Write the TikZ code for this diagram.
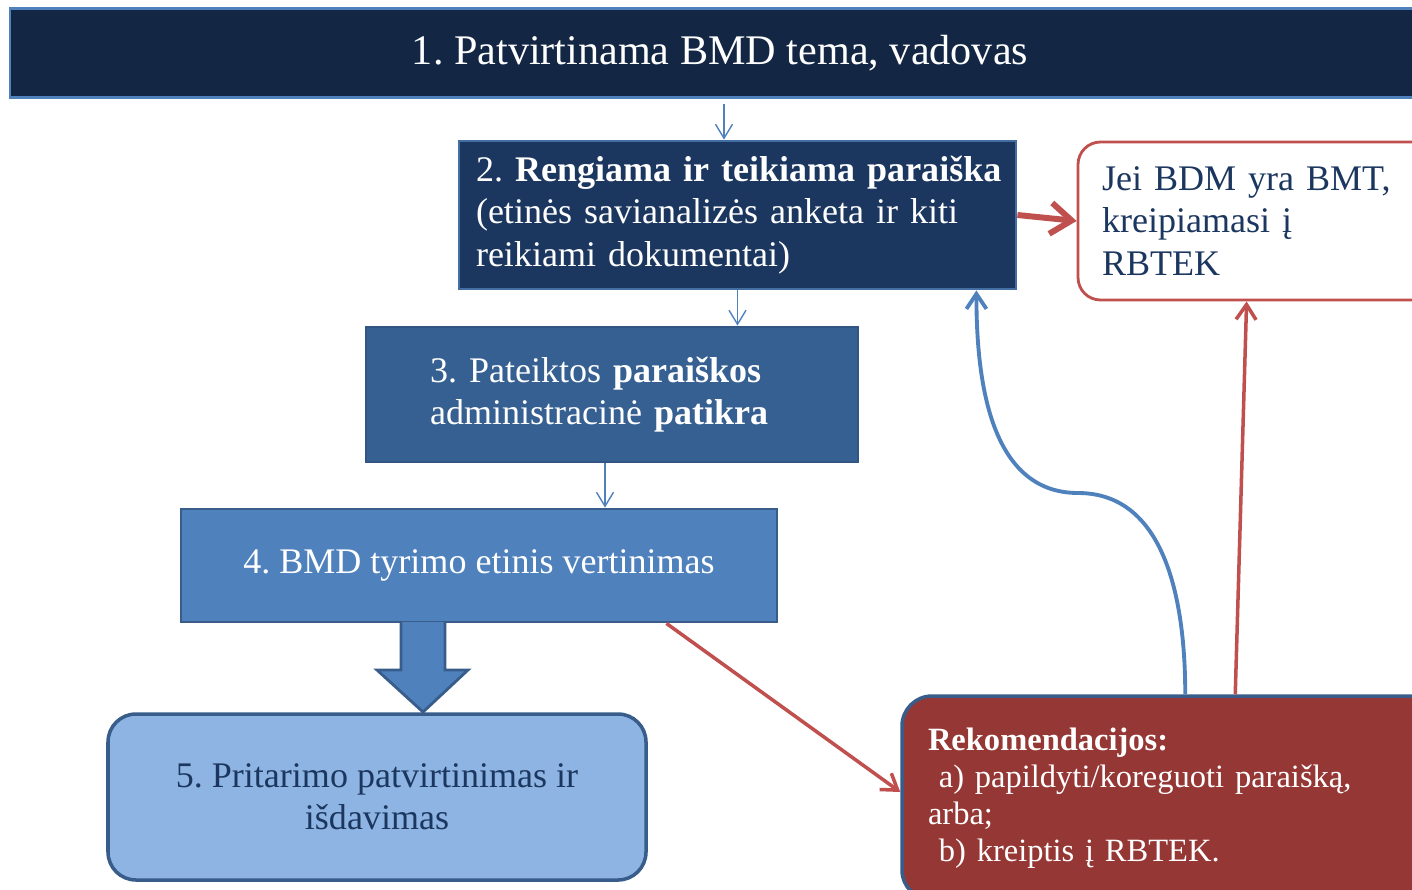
\documentclass[tikz,border=0pt]{standalone}
\usepackage{fontspec}
\setmainfont{Liberation Serif}
\usetikzlibrary{arrows.meta}
\definecolor{navyA}{HTML}{132744}
\definecolor{navyB}{HTML}{1C375F}
\definecolor{midblue}{HTML}{376092}
\definecolor{accblue}{HTML}{4F81BD}
\definecolor{edgeblue}{HTML}{385D8A}
\definecolor{lightblue}{HTML}{8EB4E3}
\definecolor{accred}{HTML}{C0504D}
\definecolor{darkred}{HTML}{953735}
\frenchspacing

\tikzset{every node/.style={rectangle, draw=edgeblue, line width=1.6pt, inner sep=0pt, text=white}}

\begin{document}
\begin{tikzpicture}[
	thinarr/.style={draw=accblue, line width=0.8pt, -{Straight Barb[length=0.28cm,width=0.34cm]}},
	redthick/.style={draw=accred, line width=3.4pt, -{Straight Barb[length=0.42cm,width=0.62cm]}},
	redarr/.style={draw=accred, line width=2pt, -{Straight Barb[length=0.3cm,width=0.4cm]}},
	bluecurve/.style={draw=accblue, line width=2.2pt, -{Straight Barb[length=0.3cm,width=0.4cm]}},
	big/.style={font=\fontsize{20.5}{24}\selectfont}]
		\useasboundingbox (0,0) rectangle (28.24,-17.78);
		\clip (0,0) rectangle (28.24,-17.78);
		
		\node[fill=navyA, draw=accblue, minimum width=28.4cm, minimum height=1.78cm, font=\fontsize{24}{28}\selectfont] (tema) at (14.4,-1.06) {1. Patvirtinama BMD tema, vadovas};
		\node[big, fill=navyB, draw=accblue!85!black, text width=10.46cm, inner xsep=0.34cm, minimum height=2.96cm, align=left] (paraiska) at (14.75,-4.3) {\mbox{2. \textbf{Rengiama ir teikiama paraiška}}\\(etinės savianalizės anketa ir kiti\\reikiami dokumentai)};
		\node[big, fill=midblue, draw=midblue!90!black, text width=7.28cm, inner xsep=1.28cm, minimum height=2.7cm, align=left] (patikra) at (12.24,-7.89) {3. Pateiktos \textbf{paraiškos}\\administracinė \textbf{patikra}};
		\node[big, fill=accblue, minimum width=11.92cm, minimum height=2.26cm] (vertinimas) at (9.58,-11.31) {4. BMD tyrimo etinis vertinimas};
		\node[big, fill=lightblue, text=navyB, line width=2pt, rounded corners=0.56cm, minimum width=10.76cm, minimum height=3.32cm, align=center] (pritarimas) at (7.54,-15.94) {5. Pritarimo patvirtinimas ir\\išdavimas};
		\node[big, fill=white, draw=accred, text=navyB, rounded corners=0.45cm, text width=6.24cm, inner xsep=0.48cm, minimum height=3.16cm, align=left] (rbtek) at (25.16,-4.42) {Jei BDM yra BMT,\\kreipiamasi į\\RBTEK};
		\node[fill=darkred, line width=2pt, rounded corners=0.6cm, text width=10.16cm, inner xsep=0.52cm, minimum height=4.08cm, align=left, font=\fontsize{18.5}{21}\selectfont] (rekom) at (23.64,-15.96) {\textbf{Rekomendacijos:}\\\ a) papildyti/koreguoti paraišką,\\arba;\\\ b) kreiptis į RBTEK.};
		
		\draw[fill=accblue, draw=edgeblue, line width=1.6pt] (8.02,-12.44) -- (8.02,-13.4) -- (7.54,-13.4) -- (8.46,-14.24) -- (9.36,-13.4) -- (8.9,-13.4) -- (8.9,-12.44);
		
		\draw[thinarr, shorten <=0.1cm] ([xshift=-0.27cm]paraiska.north |- tema.south) -- ([xshift=-0.27cm]paraiska.north);
		\draw[thinarr] (paraiska.south) -- (paraiska.south |- patikra.north);
		\draw[thinarr] ([xshift=-0.14cm]patikra.south) -- ([xshift=-0.14cm]patikra.south |- vertinimas.north);
		\draw[redthick] (paraiska.east) -- (rbtek.west);
		\draw[redarr] ([xshift=-2.24cm]vertinimas.south east) -- ([yshift=0.12cm]rekom.west);
		\draw[redarr] ([xshift=6.7cm]rekom.north west) -- ([xshift=3.4cm]rbtek.south west);
		\coordinate (bend) at (21.56,-9.86);
		\draw[bluecurve] ([xshift=5.7cm]rekom.north west) to[out=90,in=0] (bend) to[out=180,in=-90] ([xshift=-0.82cm]paraiska.south east);
	\end{tikzpicture}
\end{document}
